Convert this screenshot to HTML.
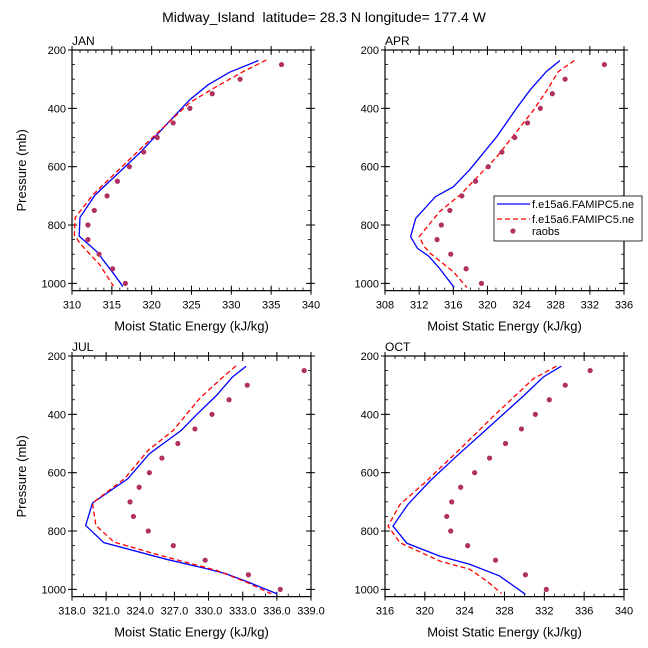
<!DOCTYPE html>
<html><head><meta charset="utf-8"><style>
body{margin:0;background:#fff}
svg{display:block;font-family:"Liberation Sans",sans-serif}
</style></head><body>
<svg id="chart" width="648" height="648" viewBox="0 0 648 648" xmlns="http://www.w3.org/2000/svg">
<text x="324" y="22" text-anchor="middle" font-size="14" xml:space="preserve">Midway_Island  latitude= 28.3 N longitude= 177.4 W</text>
</svg>
<script>
const obsLevels=[250,300,350,400,450,500,550,600,650,700,750,800,850,900,950,1000];
const panelNames=["JAN","APR","JUL","OCT"];
const janBlueP=[236,276,319,370,553,697,774,838,891,966,1011];
const janBlueV=[333.4,329.8,327.1,324.8,318.5,312.9,311.0,310.9,313.1,315.2,316.4];
const janRedP=[234,274,326,380,531,694,774,834,863,937,1009];
const janRedV=[334.4,331.5,328.1,324.8,318.9,312.7,310.4,310.3,311.0,313.5,315.2];
const janObs=[336.3,331.1,327.6,324.8,322.7,320.7,319.0,317.2,315.7,314.4,312.8,312.0,312.0,313.4,315.1,316.7];
const aprBlueP=[236,274,337,400,497,611,669,703,777,840,880,906,949,1014];
const aprBlueV=[328.5,326.9,325.0,323.4,321.1,317.9,316.0,313.9,311.6,311.0,311.8,313.1,314.4,316.1];
const aprRedP=[236,274,337,406,566,697,754,840,874,897,960,1014];
const aprRedV=[330.2,328.3,327.0,325.4,321.1,316.8,314.4,312.0,312.6,313.3,316.0,317.6];
const aprObs=[333.7,329.1,327.6,326.2,324.7,323.2,321.7,320.1,318.6,317.0,315.6,314.6,314.1,315.7,317.5,319.3];
const julBlueP=[235,272,335,403,455,535,621,704,781,840,897,929,946,977,1015];
const julBlueV=[333.3,332.1,330.7,328.9,327.6,324.8,322.9,319.8,319.2,320.8,326.3,329.8,331.5,333.6,336.0];
const julRedP=[234,278,346,455,523,621,704,781,838,883,935,975,1015];
const julRedV=[332.4,331.1,329.2,326.9,324.7,322.6,319.8,320.1,321.7,325.7,330.7,333.3,335.5];
const julObs=[338.4,333.4,331.8,330.3,328.8,327.3,325.9,324.8,323.9,323.1,323.4,324.7,326.9,329.7,333.5,336.3];
const octBlueP=[235,272,337,451,543,629,709,783,842,886,914,954,983,1017];
const octBlueV=[333.7,331.9,329.9,326.2,323.2,320.5,318.3,316.8,318.2,321.5,324.5,327.5,328.7,330.1];
const octRedP=[235,278,406,520,634,709,783,840,903,931,971,1014];
const octRedV=[333.2,330.9,326.9,323.5,320.0,317.5,316.3,317.5,321.5,324.5,326.2,327.7];
const octObs=[336.6,334.1,332.5,331.1,329.7,328.1,326.5,325.0,323.6,322.7,322.2,322.6,324.3,327.1,330.1,332.2];
const xTicksJan=[310,315,320,325,330,335,340];
const xTicksApr=[308,312,316,320,324,328,332,336];
const xTicksJul=[318,321,324,327,330,333,336,339];
const xTicksOct=[316,320,324,328,332,336,340];
const yTicks=[200,400,600,800,1000];

const NS="http://www.w3.org/2000/svg";
const svg=document.getElementById('chart');
function mk(tag,attrs,parent){const e=document.createElementNS(NS,tag);for(const k in attrs)e.setAttribute(k,attrs[k]);(parent||svg).appendChild(e);return e;}

const panels=[
 {name:panelNames[0],L:72,T:50,xt:xTicksJan,minor:1,dec:0,bP:janBlueP,bV:janBlueV,rP:janRedP,rV:janRedV,obs:janObs},
 {name:panelNames[1],L:385,T:50,xt:xTicksApr,minor:1,dec:0,bP:aprBlueP,bV:aprBlueV,rP:aprRedP,rV:aprRedV,obs:aprObs},
 {name:panelNames[2],L:72,T:356,xt:xTicksJul,minor:1,dec:1,bP:julBlueP,bV:julBlueV,rP:julRedP,rV:julRedV,obs:julObs},
 {name:panelNames[3],L:385,T:356,xt:xTicksOct,minor:1,dec:0,bP:octBlueP,bV:octBlueV,rP:octRedP,rV:octRedV,obs:octObs}
];
const W=239, PPM=0.2917, PMAX=1025;
panels.forEach(p=>{
 const id=p.name.toLowerCase();
 const g=mk('g',{});
 
 
 const x0=p.xt[0],x1=p.xt[p.xt.length-1];
 const sx=v=>p.L+(v-x0)/(x1-x0)*W;
 const sy=pr=>p.T+(pr-200)*PPM;
 const B=sy(PMAX);
 for(let v=x0;v<=x1+1e-9;v+=p.minor){
  const x=sx(v);
  mk('line',{x1:x,y1:B,x2:x,y2:B-3,stroke:'#000','stroke-width':0.8},g);
  mk('line',{x1:x,y1:p.T,x2:x,y2:p.T+3,stroke:'#000','stroke-width':0.8},g);
 }
 p.xt.forEach(v=>{
  const x=sx(v);
  mk('line',{x1:x,y1:B+4,x2:x,y2:B-5,stroke:'#000','stroke-width':1},g);
  mk('line',{x1:x,y1:p.T-4,x2:x,y2:p.T+5,stroke:'#000','stroke-width':1},g);
  const t=mk('text',{x:x,y:B+18,'text-anchor':'middle','font-size':11},g);
  
  
  t.textContent=v.toFixed(p.dec);
 });
 for(let pr=200;pr<=1000;pr+=50){
  const y=sy(pr);
  mk('line',{x1:p.L,y1:y,x2:p.L+3,y2:y,stroke:'#000','stroke-width':0.8},g);
  mk('line',{x1:p.L+W,y1:y,x2:p.L+W-3,y2:y,stroke:'#000','stroke-width':0.8},g);
 }
 yTicks.forEach(pr=>{
  const y=sy(pr);
  mk('line',{x1:p.L-4,y1:y,x2:p.L+5,y2:y,stroke:'#000','stroke-width':1},g);
  mk('line',{x1:p.L+W+4,y1:y,x2:p.L+W-5,y2:y,stroke:'#000','stroke-width':1},g);
  const t=mk('text',{x:p.L-6,y:y+4,'text-anchor':'end','font-size':11},g);
  
  
  t.textContent=pr;
 });
 const fr=mk('rect',{x:p.L,y:p.T,width:W,height:B-p.T,fill:'none',stroke:'#000','stroke-width':1.2},g);
 
 
 const lab=mk('text',{x:p.L,y:p.T-5,'font-size':12},g);
 
 
 lab.textContent=p.name;
 const xt=mk('text',{x:p.L+W/2,y:B+40,'text-anchor':'middle','font-size':13},g);
 
 
 xt.textContent='Moist Static Energy (kJ/kg)';
 if(p.L<200){
  const yt=mk('text',{x:0,y:0,'text-anchor':'middle','font-size':13,transform:`translate(26,${(p.T+B)/2}) rotate(-90)`},g);
  
  
  yt.textContent='Pressure (mb)';
 }
 const bl=mk('polyline',{points:p.bV.map((v,i)=>sx(v)+','+sy(p.bP[i])).join(' '),fill:'none',stroke:'#0000ff','stroke-width':1.3},g);
 
 
 const rl=mk('polyline',{points:p.rV.map((v,i)=>sx(v)+','+sy(p.rP[i])).join(' '),fill:'none',stroke:'#ff0000','stroke-width':1.3,'stroke-dasharray':'5,3'},g);
 
 
 p.obs.forEach((v,i)=>{
  const c=mk('circle',{cx:sx(v),cy:sy(obsLevels[i]),r:2.6,fill:'#b03060'},g);
  
  
 });
});
const lg=mk('g',{});


mk('rect',{x:494,y:196,width:148,height:45,fill:'#fff',stroke:'#000','stroke-width':0.8},lg);
mk('line',{x1:497,y1:204,x2:530,y2:204,stroke:'#0000ff','stroke-width':1.3},lg);
mk('line',{x1:497,y1:219,x2:530,y2:219,stroke:'#ff0000','stroke-width':1.3,'stroke-dasharray':'5,3'},lg);
mk('circle',{cx:513,cy:231,r:2.6,fill:'#b03060'},lg);
const lt=[['f.e15a6.FAMIPC5.ne',208],['f.e15a6.FAMIPC5.ne',223],['raobs',235]];
lt.forEach(a=>{
 const t=mk('text',{x:532,y:a[1],'font-size':11},lg);
 
 
 t.textContent=a[0];
});
</script>
</body></html>
